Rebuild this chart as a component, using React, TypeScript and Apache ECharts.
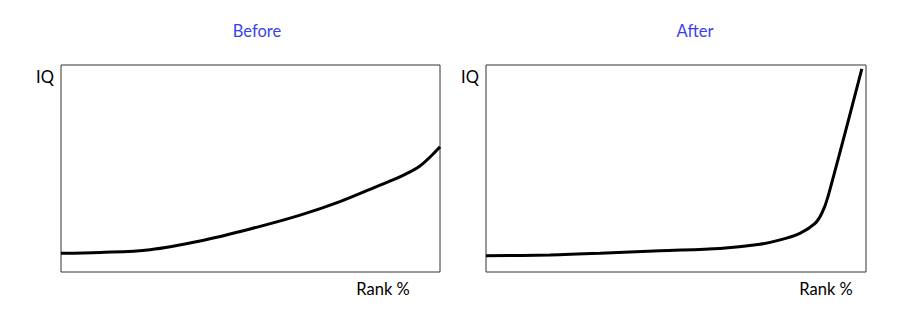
import React, { useEffect, useRef } from "react";
import * as echarts from "echarts";

const beforeRank = [0, 10.3, 23.5, 36.7, 49.9, 63.1, 73.6, 84.2, 89.4, 94.7, 100];
const beforeIQ = [9.0, 9.4, 10.8, 15.0, 20.8, 27.5, 34.0, 42.0, 46.0, 51.2, 60.5];

const afterRank = [0, 16.8, 30.0, 45.8, 61.6, 72.1, 77.4, 82.6, 86.6, 88.4, 90.0, 98.9];
const afterIQ = [7.9, 8.2, 9.0, 10.3, 11.4, 13.4, 15.5, 18.7, 23.5, 28.5, 36.4, 98.1];

const titles = ["Before", "After"];
const yLabel = "IQ";
const xLabel = "Rank %";

const FONT = "Lato, 'Noto Sans', sans-serif";

export default function App() {
  const ref = useRef<HTMLDivElement>(null);
  useEffect(() => {
    document.body.style.margin = "0";
    const chart = echarts.init(ref.current!, null, { renderer: "svg" });
    const pair = (xs: number[], ys: number[]) => xs.map((x, i) => [x, ys[i]]);
    const grids = [
      { left: 61, top: 65, width: 379, height: 207 },
      { left: 486, top: 65, width: 380, height: 207 },
    ];
    const txt = (text: string, x: number, y: number, fill: string) => ({
      type: "text",
      x,
      y,
      style: { text, fill, font: `16.5px ${FONT}`, align: "center", verticalAlign: "middle" },
    });
    chart.setOption({
      animation: false,
      backgroundColor: "#ffffff",
      grid: grids.map((g) => ({
        ...g,
        show: true,
        borderColor: "#333333",
        borderWidth: 1,
        backgroundColor: "transparent",
      })),
      xAxis: grids.map((_, i) => ({
        type: "value",
        gridIndex: i,
        min: 0,
        max: 100,
        show: false,
      })),
      yAxis: grids.map((_, i) => ({
        type: "value",
        gridIndex: i,
        min: 0,
        max: 100,
        show: false,
      })),
      series: [
        {
          type: "line",
          xAxisIndex: 0,
          yAxisIndex: 0,
          data: pair(beforeRank, beforeIQ),
          smooth: 0.35,
          showSymbol: false,
          lineStyle: { color: "#000", width: 3 },
        },
        {
          type: "line",
          xAxisIndex: 1,
          yAxisIndex: 1,
          data: pair(afterRank, afterIQ),
          smooth: 0.3,
          showSymbol: false,
          lineStyle: { color: "#000", width: 3 },
        },
      ],
      graphic: [
        txt(titles[0], 257, 31, "#3a3ff0"),
        txt(titles[1], 695, 31, "#3a3ff0"),
        txt(yLabel, 45, 77, "#000"),
        txt(yLabel, 470, 77, "#000"),
        txt(xLabel, 383, 289, "#000"),
        txt(xLabel, 826, 289, "#000"),
      ],
    });
    return () => chart.dispose();
  }, []);
  return <div ref={ref} style={{ width: 900, height: 325 }} />;
}
